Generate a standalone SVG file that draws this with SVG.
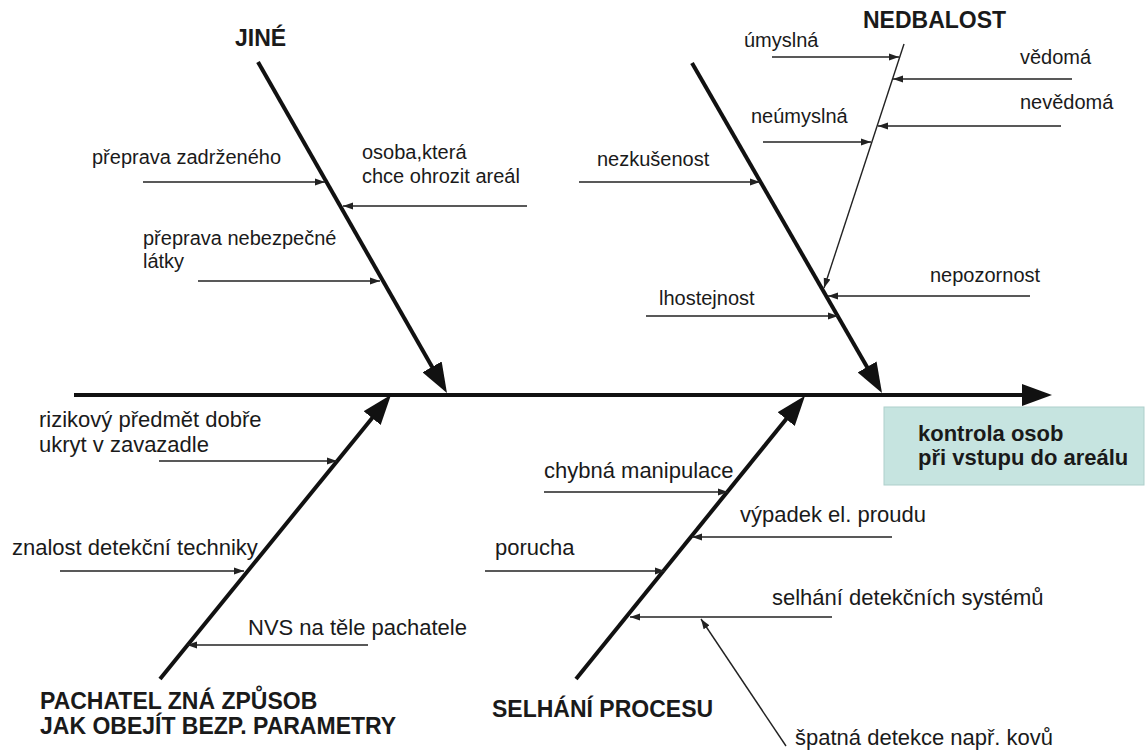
<svg xmlns="http://www.w3.org/2000/svg" width="1146" height="751" viewBox="0 0 1146 751">
  <style>
    text { font-family: "Liberation Sans", Arial, sans-serif; fill: #1a1a1a; }
    .s { font-size: 20px; }
    .m { font-size: 22px; }
    .t { font-size: 23px; font-weight: bold; }
    .b { font-size: 22px; font-weight: bold; }
    .bone { stroke: #111; stroke-width: 4; fill: none; }
    .sub { stroke: #222; stroke-width: 1.4; fill: none; marker-end: url(#small); }
    .big { marker-end: url(#head); }
  </style>
  <defs>
    <marker id="head" markerUnits="userSpaceOnUse" markerWidth="30" markerHeight="22" viewBox="0 0 30 22" refX="22" refY="11" orient="auto">
      <path d="M0,0 L30,11 L0,22 Z" fill="#111"/>
    </marker>
    <marker id="small" markerUnits="userSpaceOnUse" markerWidth="10" markerHeight="8" viewBox="0 0 10 8" refX="10" refY="4" orient="auto">
      <path d="M0,0.5 L10,4 L0,7.5 Z" fill="#222"/>
    </marker>
  </defs>

  <g id="connectors">
    <!-- main spine -->
    <line class="bone big" x1="74" y1="395" x2="1044" y2="395"/>
    <!-- category bones -->
    <line class="bone big" x1="258" y1="62" x2="443" y2="386"/>
    <line class="bone big" x1="692" y1="63" x2="878" y2="386"/>
    <line class="bone big" x1="160" y1="679" x2="386" y2="401"/>
    <line class="bone big" x1="576" y1="679" x2="800" y2="402"/>
    <!-- JINÉ causes -->
    <line class="sub" x1="143" y1="182" x2="325" y2="182"/>
    <line class="sub" x1="527" y1="206" x2="343" y2="206"/>
    <line class="sub" x1="198" y1="281" x2="380" y2="281"/>
    <!-- NEDBALOST causes -->
    <line class="sub" x1="904" y1="44" x2="824" y2="288"/>
    <line class="sub" x1="772" y1="57" x2="899" y2="57"/>
    <line class="sub" x1="1072" y1="79" x2="893" y2="79"/>
    <line class="sub" x1="1061" y1="126" x2="878" y2="126"/>
    <line class="sub" x1="763" y1="142" x2="871" y2="142"/>
    <line class="sub" x1="579" y1="182" x2="760" y2="182"/>
    <line class="sub" x1="1030" y1="296" x2="828" y2="296"/>
    <line class="sub" x1="646" y1="316" x2="838" y2="316"/>
    <!-- PACHATEL causes -->
    <line class="sub" x1="159" y1="461" x2="337" y2="461"/>
    <line class="sub" x1="60" y1="571" x2="244" y2="571"/>
    <line class="sub" x1="368" y1="645" x2="187" y2="645"/>
    <!-- SELHÁNÍ PROCESU causes -->
    <line class="sub" x1="544" y1="492" x2="728" y2="492"/>
    <line class="sub" x1="892" y1="537" x2="692" y2="537"/>
    <line class="sub" x1="485" y1="571" x2="665" y2="571"/>
    <line class="sub" x1="832" y1="617" x2="630" y2="617"/>
    <line class="sub" x1="786" y1="746" x2="701" y2="619"/>
  </g>

  <g id="effect">
    <rect x="884" y="407" width="260" height="78" fill="#c6e4e0" stroke="#aecfcb" stroke-width="1"/>
    <text class="b" x="918" y="441">kontrola osob</text>
    <text class="b" x="918" y="465">při vstupu do areálu</text>
  </g>

  <g id="jine">
    <text class="t" x="235" y="46">JINÉ</text>
    <text class="s" x="92" y="164">přeprava zadrženého</text>
    <text class="s" x="362" y="159">osoba,která</text>
    <text class="s" x="362" y="183">chce ohrozit areál</text>
    <text class="s" x="143" y="245">přeprava nebezpečné</text>
    <text class="s" x="143" y="268">látky</text>
  </g>

  <g id="nedbalost">
    <text class="t" x="863" y="28">NEDBALOST</text>
    <text class="s" x="744" y="47">úmyslná</text>
    <text class="s" x="1020" y="64">vědomá</text>
    <text class="s" x="1020" y="109">nevědomá</text>
    <text class="s" x="751" y="123">neúmyslná</text>
    <text class="s" x="597" y="166">nezkušenost</text>
    <text class="s" x="930" y="282">nepozornost</text>
    <text class="s" x="659" y="305">lhostejnost</text>
  </g>

  <g id="pachatel">
    <text class="m" x="39" y="427">rizikový předmět dobře</text>
    <text class="m" x="39" y="452">ukryt v zavazadle</text>
    <text class="m" x="12" y="555">znalost detekční techniky</text>
    <text class="m" x="248" y="635">NVS na těle pachatele</text>
    <text class="t" x="40" y="709">PACHATEL ZNÁ ZPŮSOB</text>
    <text class="t" x="40" y="734">JAK OBEJÍT BEZP. PARAMETRY</text>
  </g>

  <g id="selhani">
    <text class="m" x="544" y="478">chybná manipulace</text>
    <text class="m" x="740" y="522">výpadek el. proudu</text>
    <text class="m" x="495" y="555">porucha</text>
    <text class="m" x="772" y="605">selhání detekčních systémů</text>
    <text class="t" x="492" y="717">SELHÁNÍ PROCESU</text>
    <text class="m" x="795" y="745">špatná detekce např. kovů</text>
  </g>
</svg>
